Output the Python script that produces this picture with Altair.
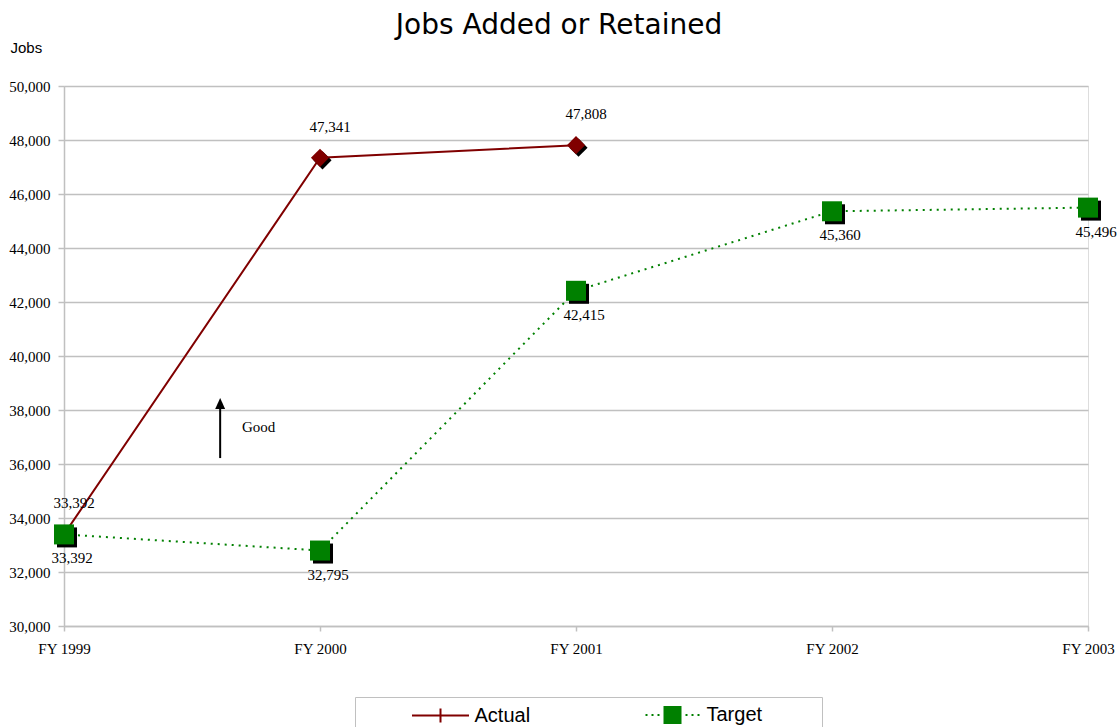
import json

import altair as alt
import pandas as pd

# ---- values -------------------------------------------------------------
fiscal_years = ["FY 1999", "FY 2000", "FY 2001", "FY 2002", "FY 2003"]
actual_jobs = [33392, 47341, 47808]
target_jobs = [33392, 32795, 42415, 45360, 45496]
series_names = ["Actual", "Target"]
y_ticks = list(range(30000, 50001, 2000))

actual_df = pd.DataFrame({"idx": list(range(len(actual_jobs))),
                          "jobs": actual_jobs, "series": "Actual"})
target_df = pd.DataFrame({"idx": list(range(len(target_jobs))),
                          "jobs": target_jobs, "series": "Target"})
both_df = pd.concat([actual_df, target_df], ignore_index=True)

# "Good" arrow annotation (higher is better), placed in data units
arrow_shaft_df = pd.DataFrame({"idx": [0.61], "jobs": [36220], "jobs_end": [38185]})
arrow_head_df = pd.DataFrame({"idx": [0.61], "jobs": [38240]})
good_df = pd.DataFrame({"idx": [0.695], "jobs": [37370], "text": ["Good"]})

# ---- styling ------------------------------------------------------------
RED = "#800000"
GREEN = "#008000"
GRID = "#c0c0c0"
SERIF = "Liberation Serif"
SANS = "Liberation Sans"

year_expr = json.dumps(fiscal_years) + "[datum.value]"

x_enc = alt.X(
    "idx:Q",
    scale=alt.Scale(domain=[0, len(fiscal_years) - 1], nice=False, zero=False),
    axis=alt.Axis(values=list(range(len(fiscal_years))), labelExpr=year_expr,
                  title=None, grid=False, domainColor=GRID, domainWidth=1.5,
                  tickColor=GRID, tickSize=5, tickWidth=1.5, labelFont=SERIF,
                  labelFontSize=15, labelColor="black", labelPadding=10,
                  labelFlush=False, labelOverlap=False),
)
y_enc = alt.Y(
    "jobs:Q",
    scale=alt.Scale(domain=[30000, 50000], nice=False, zero=False),
    axis=alt.Axis(values=y_ticks, format=",d", title="Jobs", titleAngle=0,
                  titleX=-54, titleY=-34, titleAlign="left",
                  titleBaseline="alphabetic", titleFont=SANS, titleFontSize=15,
                  titleFontWeight="normal", titleColor="black",
                  labelFont=SERIF, labelFontSize=15, labelColor="black",
                  labelPadding=8, tickColor=GRID, tickSize=6, tickWidth=1.5,
                  domainColor=GRID, domainWidth=1.5, gridColor=GRID,
                  gridWidth=1.5, labelFlush=False),
)

# ---- series lines ---------------------------------------------------------
actual_line = alt.Chart(actual_df).mark_line(color=RED, strokeWidth=2).encode(
    x=x_enc, y=y_enc)
target_line = alt.Chart(target_df).mark_line(
    color=GREEN, strokeWidth=2, strokeDash=[2, 5]).encode(x=x_enc, y=y_enc)

# ---- markers with drop shadows -------------------------------------------
target_shadow = alt.Chart(target_df).mark_point(
    shape="square", size=400, filled=True, color="black", opacity=1,
    xOffset=3, yOffset=3).encode(x=x_enc, y=y_enc)
target_marks = alt.Chart(target_df).mark_point(
    shape="square", size=400, filled=True, color=GREEN, opacity=1).encode(
    x=x_enc, y=y_enc)
actual_shadow = alt.Chart(actual_df).mark_point(
    shape="diamond", size=330, filled=True, color="black", opacity=1,
    xOffset=2.5, yOffset=2.5).encode(x=x_enc, y=y_enc)
actual_marks = alt.Chart(actual_df).mark_point(
    shape="diamond", size=330, filled=True, color=RED, opacity=1).encode(
    x=x_enc, y=y_enc)

# ---- value labels ---------------------------------------------------------
actual_labels = alt.Chart(actual_df).mark_text(
    font=SERIF, fontSize=15, color="black", dx=10, dy=-31,
    align="center", baseline="middle").encode(
    x=x_enc, y=y_enc, text=alt.Text("jobs:Q", format=",d"))
target_labels = alt.Chart(target_df).mark_text(
    font=SERIF, fontSize=15, color="black", dx=8, dy=24,
    align="center", baseline="middle").encode(
    x=x_enc, y=y_enc, text=alt.Text("jobs:Q", format=",d"))

# ---- "Good" arrow -----------------------------------------------------------
arrow_shaft = alt.Chart(arrow_shaft_df).mark_rule(
    color="black", strokeWidth=2).encode(x=x_enc, y=y_enc, y2="jobs_end:Q")
arrow_head = alt.Chart(arrow_head_df).mark_point(
    shape="M0,-1L-0.9,1L0.9,1Z", size=121, filled=True, color="black",
    opacity=1).encode(x=x_enc, y=y_enc)
arrow_text = alt.Chart(good_df).mark_text(
    font=SERIF, fontSize=15, color="black", align="left",
    baseline="middle").encode(x=x_enc, y=y_enc, text="text:N")

# ---- legend: line-with-marker keys ----------------------------------------
actual_key = "M-2.85,0H2.85M0,-0.7V0.7"
target_key = ("M-2.7,0H-2.5M-2.1,0H-1.9M-1.5,0H-1.3"
              "M1.3,0H1.5M1.9,0H2.1M2.5,0H2.7"
              "M-0.8,-0.8H0.8V0.8H-0.8Z")
legend = alt.Legend(
    title=" ", titleOrient="right", titlePadding=53, orient="none",
    legendX=291, legendY=611, direction="horizontal", symbolSize=400,
    symbolOffset=67.5, labelOffset=23, symbolStrokeWidth=2, symbolOpacity=1,
    labelFont=SANS, labelFontSize=20, labelColor="black", columnPadding=63,
    padding=7, strokeColor=GRID, fillColor="white")
legend_keys = alt.Chart(both_df).mark_point(opacity=0).encode(
    x=x_enc, y=y_enc,
    shape=alt.Shape("series:N", scale=alt.Scale(domain=series_names,
                                                range=[actual_key, target_key]),
                    legend=legend),
    fill=alt.Fill("series:N", scale=alt.Scale(domain=series_names,
                                              range=[RED, GREEN]),
                  legend=legend),
    stroke=alt.Stroke("series:N", scale=alt.Scale(domain=series_names,
                                                  range=[RED, GREEN]),
                      legend=legend),
)

chart = alt.layer(
    legend_keys, actual_line, target_line, actual_shadow, actual_marks,
    target_shadow, target_marks, actual_labels, target_labels,
    arrow_shaft, arrow_head, arrow_text,
).properties(
    width=1024, height=540, autosize="none",
    padding={"left": 64, "top": 86, "right": 30, "bottom": 101},
    title=alt.Title("Jobs Added or Retained", font="DejaVu Sans", fontSize=28,
                    fontWeight="normal", color="black",
                    anchor="middle", dx=-17, dy=27, offset=5,
                    baseline="alphabetic"),
).configure_view(stroke=GRID, strokeWidth=1.5).configure(background="white")

chart.save("out.html", embed_options={"renderer": "svg", "actions": False})
